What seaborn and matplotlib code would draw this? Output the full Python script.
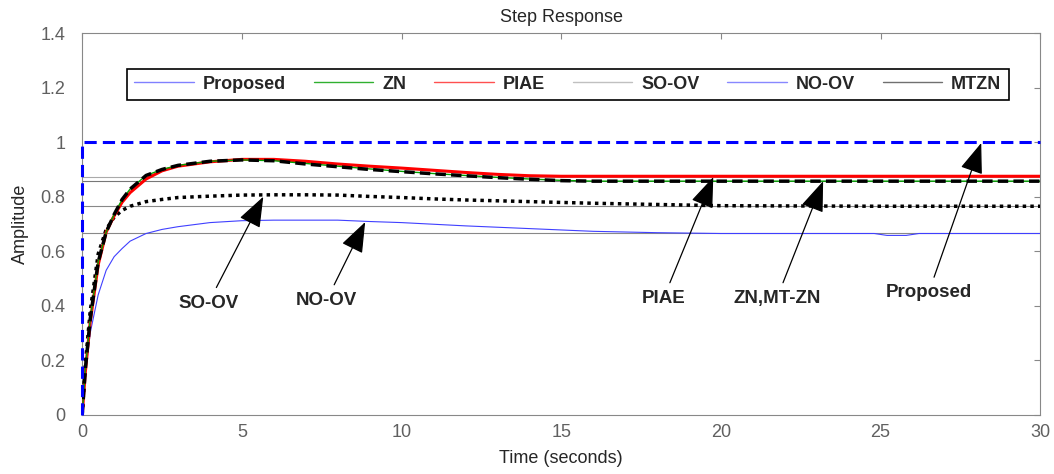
import numpy as np
import pandas as pd
import matplotlib
matplotlib.use("Agg")
import matplotlib.pyplot as plt
from matplotlib.lines import Line2D
import seaborn as sns

# Step response data
t_proposed = [0, 0, 30]
y_proposed = [0, 1.0, 1.0]

t_ctrl = [0, 0.1, 0.25, 0.5, 0.75, 1.0, 1.25, 1.5, 2.0, 2.5, 3.0, 4.0, 5.0, 6.0,
          7.0, 8.0, 9.0, 10.0, 11.0, 12.0, 13.0, 14.0, 15.0, 16.0, 20.0, 25.0, 30.0]
y_piae = [0, 0.16, 0.34, 0.55, 0.67, 0.73, 0.78, 0.815, 0.865, 0.895, 0.912, 0.928, 0.937, 0.937,
          0.93, 0.92, 0.912, 0.905, 0.897, 0.889, 0.882, 0.877, 0.875, 0.875, 0.875, 0.875, 0.875]
y_zn = [0, 0.17, 0.35, 0.56, 0.67, 0.735, 0.79, 0.828, 0.878, 0.9, 0.915, 0.93, 0.935, 0.932,
        0.922, 0.912, 0.902, 0.893, 0.885, 0.878, 0.871, 0.865, 0.86, 0.857, 0.857, 0.857, 0.857]
y_mtzn = [0, 0.17, 0.35, 0.56, 0.67, 0.735, 0.79, 0.828, 0.878, 0.9, 0.915, 0.93, 0.935, 0.932,
          0.92, 0.91, 0.9, 0.892, 0.884, 0.877, 0.87, 0.864, 0.859, 0.857, 0.857, 0.857, 0.857]
y_soov = [0, 0.19, 0.38, 0.59, 0.68, 0.725, 0.75, 0.765, 0.782, 0.79, 0.797, 0.802, 0.806, 0.807,
          0.807, 0.806, 0.801, 0.797, 0.792, 0.788, 0.785, 0.782, 0.779, 0.776, 0.767, 0.765, 0.765]

t_noov = [0, 0.1, 0.25, 0.5, 0.75, 1.0, 1.25, 1.5, 2.0, 2.5, 3.0, 4.0, 5.0, 6.0, 7.0, 8.0, 9.0,
          10.0, 11.0, 12.0, 13.0, 14.0, 15.0, 16.0, 18.0, 20.0, 24.8, 25.2, 25.8, 26.2, 30.0]
y_noov = [0, 0.15, 0.3, 0.44, 0.53, 0.58, 0.61, 0.637, 0.665, 0.68, 0.69, 0.705, 0.712, 0.714,
          0.714, 0.714, 0.709, 0.705, 0.699, 0.693, 0.688, 0.683, 0.678, 0.673, 0.668, 0.665,
          0.665, 0.658, 0.658, 0.665, 0.665]

steady_levels = [0.872, 0.857, 0.765, 0.666]
steady_colors = ["#aaaaaa", "#777777", "#888888", "#888888"]

legend_labels = ["Proposed", "ZN", "PIAE", "SO-OV", "NO-OV", "MTZN"]
legend_colors = ["#8080ff", "#30b030", "#ff5050", "#c0c0c0", "#8888ff", "#707070"]

# annotation: label, text position, arrow tip
notes = [("SO-OV", (3.95, 0.41), (5.67, 0.80)),
         ("NO-OV", (7.65, 0.42), (8.86, 0.707)),
         ("PIAE", (18.2, 0.427), (19.76, 0.872)),
         ("ZN,MT-ZN", (21.75, 0.427), (23.2, 0.857)),
         ("Proposed", (26.5, 0.447), (28.15, 0.997))]

sns.set_style("white")
plt.rcParams['font.family'] = ['Liberation Sans', 'DejaVu Sans']

fig, ax = plt.subplots(figsize=(10.54, 4.74), dpi=100)
fig.subplots_adjust(left=0.078, right=0.987, bottom=0.125, top=0.930)

for lvl, c in zip(steady_levels, steady_colors):
    ax.axhline(lvl, color=c, lw=0.8, zorder=1)

sns.lineplot(x=t_noov, y=y_noov, ax=ax, color="#4040ff", lw=0.8, estimator=None, sort=False, zorder=3)
sns.lineplot(x=t_ctrl, y=y_soov, ax=ax, color="black", lw=2.5, linestyle=(0, (1, 1.2)),
             estimator=None, sort=False, zorder=4)
sns.lineplot(x=t_ctrl, y=y_piae, ax=ax, color="#ff0000", lw=2.2, estimator=None, sort=False, zorder=4)
sns.lineplot(x=t_ctrl, y=y_zn, ax=ax, color="#00a000", lw=1.0, estimator=None, sort=False, zorder=5)
sns.lineplot(x=t_ctrl, y=y_mtzn, ax=ax, color="black", lw=2.5, linestyle=(0, (3, 1.5)),
             estimator=None, sort=False, zorder=6)
sns.lineplot(x=t_proposed, y=y_proposed, ax=ax, color="#0000ff", lw=2.2, linestyle=(0, (4, 2)),
             estimator=None, sort=False, zorder=7, clip_on=False)

ax.set_xlim(0, 30)
ax.set_ylim(0, 1.4)
ax.set_xticks(np.arange(0, 31, 5))
ax.set_yticks(np.arange(0, 1.41, 0.2))
ax.set_yticklabels([f"{v:g}" for v in np.round(np.arange(0, 1.41, 0.2), 1)])
ax.tick_params(direction="in", length=4, color="#888888", labelcolor="#606060", labelsize=13,
               top=True, right=True)
ax.tick_params(axis="y", pad=12)
ax.tick_params(axis="x", pad=7)
for s in ax.spines.values():
    s.set_color("#888888")
    s.set_linewidth(0.8)

ax.set_title("Step Response", fontsize=13, pad=8)
ax.set_xlabel("Time (seconds)", fontsize=13, labelpad=6)
ax.set_ylabel("Amplitude", fontsize=13, labelpad=8)

handles = [Line2D([], [], color=c, lw=1) for c in legend_colors]
leg = ax.legend(handles, legend_labels, ncol=6, loc="lower left", mode="expand",
                bbox_to_anchor=(0.047, 0.825, 0.92, 0.086), frameon=True, fancybox=False,
                framealpha=1, edgecolor="black", handlelength=3.3, handletextpad=0.5,
                borderaxespad=0, prop={"weight": "bold", "size": 13})
leg.get_frame().set_linewidth(1.2)

for label, txt, tip in notes:
    ax.annotate(label, xy=tip, xytext=txt, ha="center", va="center", fontsize=13.5,
                fontweight="bold", zorder=8,
                arrowprops=dict(arrowstyle="-|>,head_length=1.2,head_width=0.45",
                                color="black", lw=0.9, mutation_scale=16, shrinkA=3, shrinkB=0))

fig.savefig("out.png", dpi=100)
